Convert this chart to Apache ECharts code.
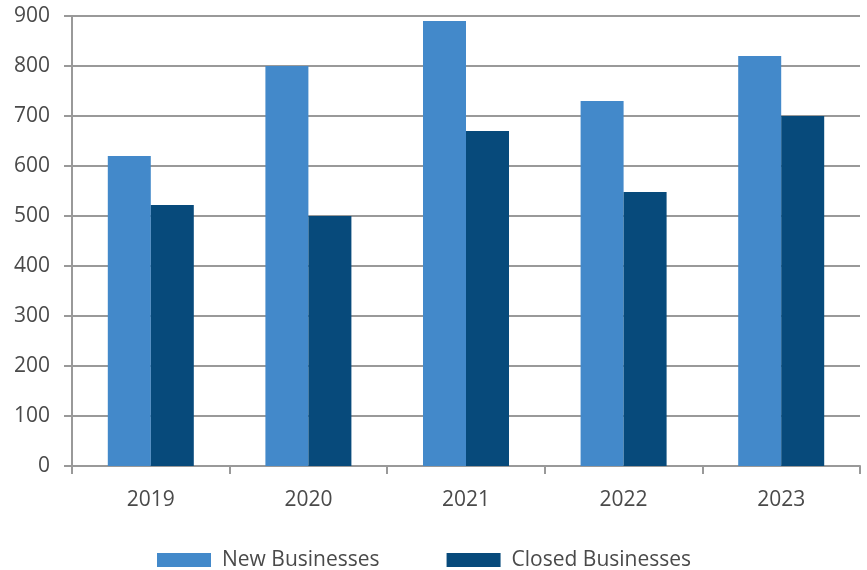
<!DOCTYPE html>
<html><head><meta charset="utf-8">
<script src="https://cdn.jsdelivr.net/npm/echarts@6/dist/echarts.min.js"></script>
<style>html,body{margin:0;padding:0;background:#fff}#c{width:867px;height:570px}</style>
</head><body><div id="c"></div>
<script>
const categories = ['2019','2020','2021','2022','2023'];
const newBusinesses = [620, 800, 890, 730, 820];
const closedBusinesses = [522, 500, 670, 548, 700];
const yTicks = [0,100,200,300,400,500,600,700,800,900];

const FONT = '"Open Sans", "Noto Sans", sans-serif';
const chart = echarts.init(document.getElementById('c'));
chart.setOption({
  animation: false,
  textStyle: {fontFamily: FONT},
  grid: {left: 72, right: 7, top: 16, bottom: 104, containLabel: false},
  legend: {
    top: 544, left: 152, itemWidth: 54, itemHeight: 14, itemGap: 67,
    icon: 'rect',
    textStyle: {fontSize: 21, lineHeight: 22, color: '#4a4a4a', fontFamily: FONT, padding: [0,0,0,6]},
    data: ['New Businesses','Closed Businesses']
  },
  xAxis: {
    type: 'category', data: categories,
    axisLine: {lineStyle: {color: '#999', width: 2}},
    axisTick: {show: true, length: 8, lineStyle: {color: '#999', width: 2}},
    axisLabel: {fontSize: 21, color: '#4a4a4a', margin: 24, fontFamily: FONT}
  },
  yAxis: {
    type: 'value', min: 0, max: 900, interval: 100,
    axisLine: {show: true, lineStyle: {color: '#999', width: 2}},
    axisTick: {show: true, length: 8, lineStyle: {color: '#999', width: 2}},
    axisLabel: {fontSize: 21, color: '#4a4a4a', margin: 22, fontFamily: FONT,
      formatter: v => yTicks.includes(v) ? String(v) : ''},
    splitLine: {lineStyle: {color: '#999', width: 2}}
  },
  series: [
    {name: 'New Businesses', type: 'bar', data: newBusinesses, barWidth: 43, barGap: '0%',
     itemStyle: {color: '#4389CA'}},
    {name: 'Closed Businesses', type: 'bar', data: closedBusinesses, barWidth: 43, barGap: '0%',
     itemStyle: {color: '#074A7B'}}
  ]
});
</script></body></html>
